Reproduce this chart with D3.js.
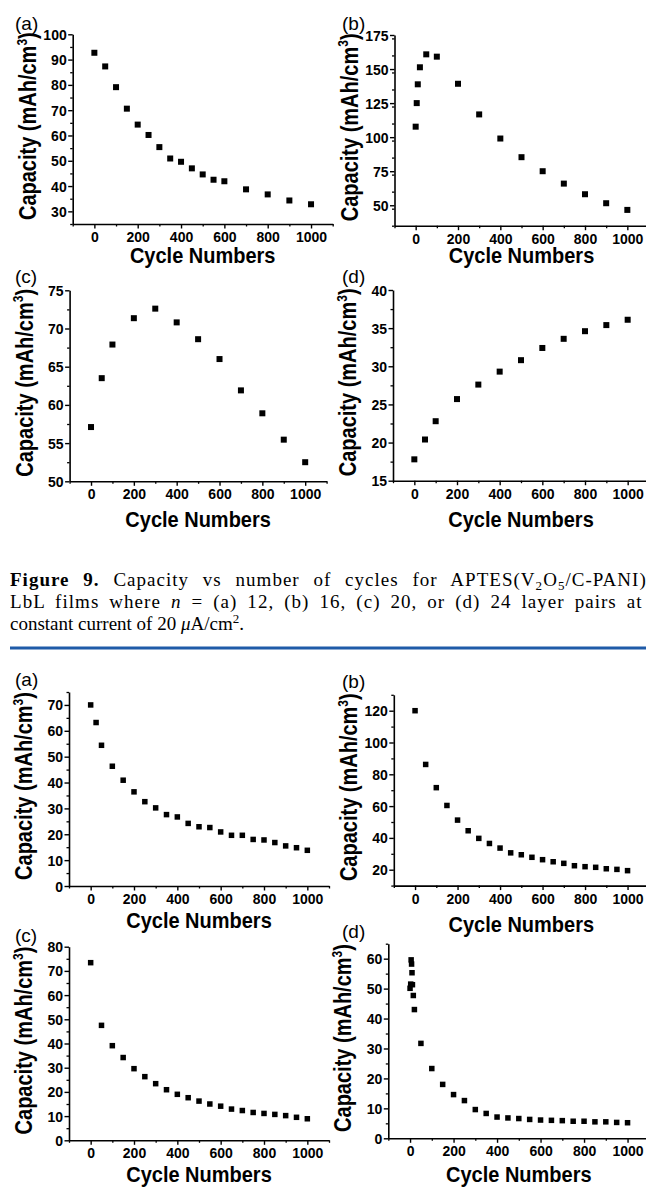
<!DOCTYPE html>
<html>
<head>
<meta charset="utf-8">
<script src="https://cdn.jsdelivr.net/npm/d3@7"></script>
<style>
  body { margin: 0; background: #fff; }
  svg { display: block; }
  .tick text { font-family: "Liberation Sans", Arial, sans-serif; font-weight: bold; font-size: 14px; fill: #000; }
</style>
</head>
<body>
<div id="chart"></div>
<script>
// ---- data ----
var cycles_1a = [0, 50, 100, 150, 200, 250, 300, 350, 400, 450, 500, 550, 600, 700, 800, 900, 1000];
var cap_1a = [92.7, 87.3, 79.1, 70.6, 64.3, 60.2, 55.4, 50.9, 49.6, 47.0, 44.6, 42.5, 41.9, 38.7, 36.7, 34.3, 32.8];

var cycles_1b = [0, 5, 10, 20, 50, 100, 200, 300, 400, 500, 600, 700, 800, 900, 1000];
var cap_1b = [107.7, 125, 138.8, 151.3, 160.8, 159.1, 139.2, 116.7, 99, 85.3, 75, 65.9, 58.1, 51.5, 46.6];

var cycles_1c = [0, 50, 100, 200, 300, 400, 500, 600, 700, 800, 900, 1000];
var cap_1c = [57.1, 63.5, 67.9, 71.35, 72.6, 70.8, 68.6, 66.0, 61.9, 58.9, 55.45, 52.5];

var cycles_1d = [0, 50, 100, 200, 300, 400, 500, 600, 700, 800, 900, 1000];
var cap_1d = [17.8, 20.4, 22.8, 25.7, 27.6, 29.3, 30.8, 32.4, 33.6, 34.6, 35.4, 36.1];

var cycles_2a = [0, 25, 50, 100, 150, 200, 250, 300, 350, 400, 450, 500, 550, 600, 650, 700, 750, 800, 850, 900, 950, 1000];
var cap_2a = [70, 63.2, 54.4, 46.3, 40.9, 36.4, 32.6, 30.2, 27.6, 26.7, 24.2, 22.9, 22.6, 20.9, 19.6, 19.6, 18.0, 17.8, 16.8, 15.5, 14.8, 13.8];

var cycles_2b = [0, 50, 100, 150, 200, 250, 300, 350, 400, 450, 500, 550, 600, 650, 700, 750, 800, 850, 900, 950, 1000];
var cap_2b = [120, 86.2, 71.6, 60.4, 51.2, 44.5, 39.7, 36.5, 33.6, 30.6, 29.4, 27.8, 26.3, 25.0, 24.0, 22.5, 21.9, 21.5, 20.6, 20.2, 19.4];

var cycles_2c = [0, 50, 100, 150, 200, 250, 300, 350, 400, 450, 500, 550, 600, 650, 700, 750, 800, 850, 900, 950, 1000];
var cap_2c = [73.4, 47.5, 39.1, 34.2, 29.6, 26.3, 23.4, 20.9, 19.0, 17.6, 16.2, 15.0, 14.1, 12.9, 12.3, 11.5, 11.1, 10.7, 10.2, 9.5, 8.9];

var cycles_2d = [0, 3, 5, 7, 9, 11, 15, 20, 50, 100, 150, 200, 250, 300, 350, 400, 450, 500, 550, 600, 650, 700, 750, 800, 850, 900, 950, 1000];
var cap_2d = [50.1, 51.5, 59.6, 58.2, 55.3, 51.3, 47.7, 43.0, 31.7, 23.3, 18.0, 14.6, 12.6, 9.6, 8.3, 7.1, 6.8, 6.6, 6.3, 6.1, 6.0, 5.9, 5.7, 5.7, 5.5, 5.5, 5.3, 5.2];

// tick labels
var xTicks = [0, 200, 400, 600, 800, 1000];
var yTicks_1a = [30, 40, 50, 60, 70, 80, 90, 100];
var yTicks_1b = [50, 75, 100, 125, 150, 175];
var yTicks_1c = [50, 55, 60, 65, 70, 75];
var yTicks_1d = [15, 20, 25, 30, 35, 40];
var yTicks_2a = [0, 10, 20, 30, 40, 50, 60, 70];
var yTicks_2b = [20, 40, 60, 80, 100, 120];
var yTicks_2c = [0, 10, 20, 30, 40, 50, 60, 70, 80];
var yTicks_2d = [0, 10, 20, 30, 40, 50, 60];

var panelLetters = ["(a)", "(b)", "(c)", "(d)"];
var xTitle = "Cycle Numbers";

// ---- layout ----
var W = 646, H = 1189;
var svg = d3.select("#chart").append("svg")
    .attr("width", W)
    .attr("height", H);

// left = y axis position, w = axis length for [-100,1100], top/bottom in px
var panels = [
    { xs: cycles_1a, ys: cap_1a, yt: yTicks_1a, ydom: [25, 100], yminor: 5, left: 72.7, w: 260, top: 34.3, bottom: 224, letter: panelLetters[0], lx: 15, ly: 30, titleOff: 39, sq: 6 },
    { xs: cycles_1b, ys: cap_1b, yt: yTicks_1b, ydom: [35, 175], yminor: 12.5, left: 394.5, w: 254, top: 35, bottom: 225.7, letter: panelLetters[1], lx: 342, ly: 30, titleOff: 37.5, sq: 6 },
    { xs: cycles_1c, ys: cap_1c, yt: yTicks_1c, ydom: [50, 75], yminor: 2.5, left: 69.6, w: 257, top: 290.3, bottom: 481.3, letter: panelLetters[2], lx: 15, ly: 283, titleOff: 46, sq: 6 },
    { xs: cycles_1d, ys: cap_1d, yt: yTicks_1d, ydom: [15, 40], yminor: 2.5, left: 393, w: 256, top: 290, bottom: 480.7, letter: panelLetters[3], lx: 342, ly: 283, titleOff: 46, sq: 6 },
    { xs: cycles_2a, ys: cap_2a, yt: yTicks_2a, ydom: [0, 75], yminor: 5, left: 69, w: 260, top: 692, bottom: 886, letter: panelLetters[0], lx: 15, ly: 686, titleOff: 42, sq: 5.5 },
    { xs: cycles_2b, ys: cap_2b, yt: yTicks_2b, ydom: [10, 130], yminor: 10, left: 393.8, w: 255, top: 694.8, bottom: 885.6, letter: panelLetters[1], lx: 342, ly: 688, titleOff: 46, sq: 5.5 },
    { xs: cycles_2c, ys: cap_2c, yt: yTicks_2c, ydom: [0, 80], yminor: 5, left: 69, w: 260, top: 946.7, bottom: 1140.3, letter: panelLetters[2], lx: 15, ly: 942, titleOff: 42, sq: 5.5 },
    { xs: cycles_2d, ys: cap_2d, yt: yTicks_2d, ydom: [0, 65], yminor: 5, left: 388.3, w: 261, top: 943.7, bottom: 1138.3, letter: panelLetters[3], lx: 342, ly: 938, titleOff: 44, sq: 5.5 }
];

panels.forEach(function(p) {
    var x = d3.scaleLinear().domain([-100, 1100]).range([p.left, p.left + p.w]);
    var y = d3.scaleLinear().domain(p.ydom).range([p.bottom, p.top]);
    var g = svg.append("g");

    // minor ticks
    var xMinor = d3.range(-100, 1101, 100).filter(function(v) { return xTicks.indexOf(v) < 0; });
    g.append("g")
        .attr("transform", "translate(0 " + p.bottom + ")")
        .call(d3.axisBottom(x).tickValues(xMinor).tickSize(2.5).tickSizeOuter(0).tickFormat(""))
        .call(function(a) { a.select(".domain").remove(); a.selectAll("line").attr("stroke-width", 1.3); });
    var yMinor = d3.range(p.ydom[0], p.ydom[1] + 0.01, p.yminor).filter(function(v) { return p.yt.indexOf(v) < 0; });
    g.append("g")
        .attr("transform", "translate(" + p.left + " 0)")
        .call(d3.axisLeft(y).tickValues(yMinor).tickSize(2.5).tickSizeOuter(0).tickFormat(""))
        .call(function(a) { a.select(".domain").remove(); a.selectAll("line").attr("stroke-width", 1.3); });

    // major axes
    g.append("g")
        .attr("transform", "translate(0 " + p.bottom + ")")
        .call(d3.axisBottom(x).tickValues(xTicks).tickSize(4.5).tickSizeOuter(0).tickPadding(3.5).tickFormat(d3.format("d")))
        .call(function(a) {
            a.select(".domain").attr("stroke-width", 1.6);
            a.selectAll("line").attr("stroke-width", 1.4);
        });
    g.append("g")
        .attr("transform", "translate(" + p.left + " 0)")
        .call(d3.axisLeft(y).tickValues(p.yt).tickSize(4.5).tickSizeOuter(0).tickPadding(1.5).tickFormat(d3.format("d")))
        .call(function(a) {
            a.select(".domain").attr("stroke-width", 1.6);
            a.selectAll("line").attr("stroke-width", 1.4);
            a.selectAll("text").attr("dy", "0.36em");
        });

    // markers
    g.selectAll("rect.pt")
        .data(p.xs).enter()
        .append("rect")
            .attr("class", "pt")
            .attr("x", function(d) { return x(d) - p.sq / 2; })
            .attr("y", function(d, i) { return y(p.ys[i]) - p.sq / 2; })
            .attr("width", p.sq)
            .attr("height", p.sq)
            .attr("fill", "#000");

    // x title (glyphs in the figure are a bit taller than Arial)
    g.append("text")
        .attr("transform", "translate(" + x(500) + " " + (p.bottom + p.titleOff) + ") scale(1 1.12)")
        .attr("text-anchor", "middle")
        .attr("font-family", "Liberation Sans, Arial, sans-serif")
        .attr("font-weight", "bold")
        .attr("font-size", "20px")
        .text(xTitle);

    // y title
    var yt = g.append("text")
        .attr("transform", "translate(" + (p.left - 37) + " " + ((p.top + p.bottom) / 2 - 3) + ") rotate(-90) scale(1 1.15)")
        .attr("text-anchor", "middle")
        .attr("font-family", "Liberation Sans, Arial, sans-serif")
        .attr("font-weight", "bold")
        .attr("font-size", "20px");
    yt.append("tspan").text("Capacity (mAh/cm");
    yt.append("tspan").attr("dy", -8).attr("font-size", "12px").text("3");
    yt.append("tspan").attr("dy", 8).text(")");

    // panel letter
    g.append("text")
        .attr("x", p.lx)
        .attr("y", p.ly)
        .attr("font-family", "Liberation Sans, Arial, sans-serif")
        .attr("font-size", "19px")
        .text(p.letter);
});

// ---- caption (justified lines in the source, so spread them out) ----
var cap = svg.append("g")
    .attr("font-family", "Liberation Serif, Times New Roman, serif")
    .attr("font-size", "19px");

var l1 = cap.append("text").attr("x", 10).attr("y", 586);
l1.append("tspan").attr("font-weight", "bold").text("Figure 9.");
l1.append("tspan").text(" Capacity vs number of cycles for APTES(V");
l1.append("tspan").attr("dy", 4).attr("font-size", "13px").text("2");
l1.append("tspan").attr("dy", -4).text("O");
l1.append("tspan").attr("dy", 4).attr("font-size", "13px").text("5");
l1.append("tspan").attr("dy", -4).text("/C-PANI)");
l1.append("tspan").attr("dy", 4).attr("font-size", "13px").attr("font-style", "italic").text("n");
l1.append("tspan").attr("dy", -4).text(",");

var l2 = cap.append("text").attr("x", 10).attr("y", 608);
l2.append("tspan").text("LbL films where ");
l2.append("tspan").attr("font-style", "italic").text("n");
l2.append("tspan").text(" = (a) 12, (b) 16, (c) 20, or (d) 24 layer pairs at a");

var l3 = cap.append("text").attr("x", 10).attr("y", 630);
l3.append("tspan").text("constant current of 20 ");
l3.append("tspan").attr("font-style", "italic").text("\u03BC");
l3.append("tspan").text("A/cm");
l3.append("tspan").attr("dy", -7).attr("font-size", "13px").text("2");
l3.append("tspan").attr("dy", 7).text(".");

// share the extra width between letters and word gaps
function justify(t, target) {
    var natural = t.node().getComputedTextLength();
    var str = t.text();
    var spaces = (str.match(/ /g) || []).length;
    var extra = target - natural;
    var ls = extra * 0.5 / str.length;
    t.attr("letter-spacing", ls)
     .attr("word-spacing", extra * 0.5 / spaces);
}
justify(l1, 650);
justify(l2, 652);

svg.append("line")
    .attr("x1", 10).attr("x2", W)
    .attr("y1", 648).attr("y2", 648)
    .attr("stroke", "#1f5ba8")
    .attr("stroke-width", 3);
</script>
</body>
</html>
